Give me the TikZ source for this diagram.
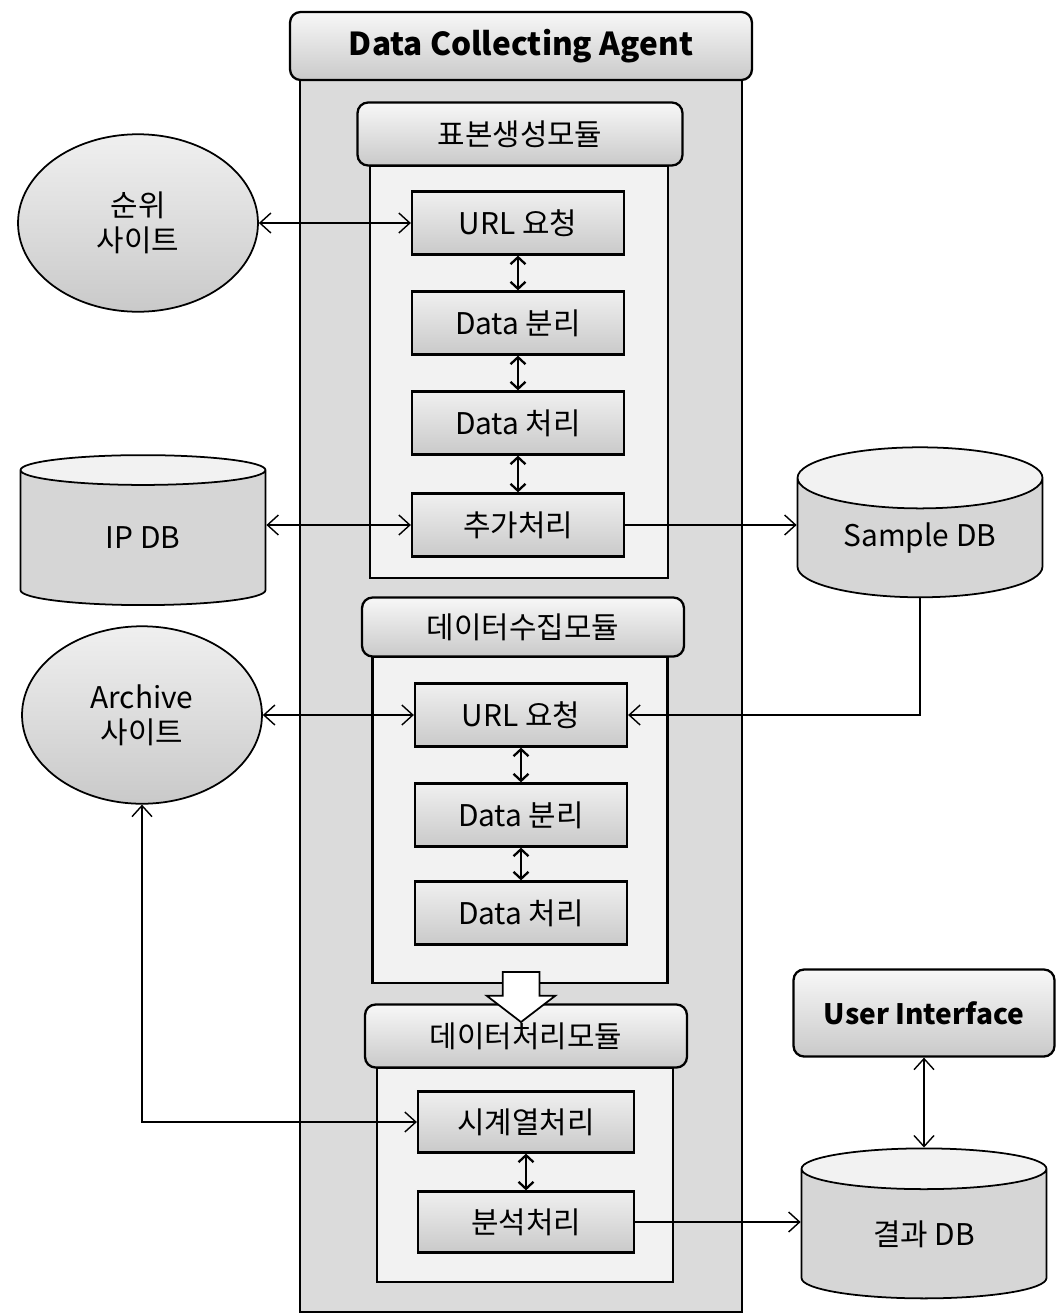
\documentclass[tikz,border=0pt]{standalone}
\usepackage{fontspec}
\setmainfont{Noto Sans CJK KR}
\usetikzlibrary{shapes.geometric}
\usetikzlibrary{shapes.arrows}
\usetikzlibrary{arrows.meta}

\begin{document}
\begin{tikzpicture}[x=0.02cm,y=-0.02cm,>={Straight Barb[length=2.2mm,width=4mm]},
    every node/.style={font=\fontsize{17}{20}\selectfont},
    hdr/.style={draw,line width=1.3pt,rounded corners=6pt,top color=gray!6,bottom color=gray!42,inner sep=0pt},
    panel/.style={draw,line width=1.3pt,fill=gray!10,inner sep=0pt},
    stepbox/.style={draw,line width=1.3pt,top color=gray!12,bottom color=gray!42,minimum width=4.24cm,minimum height=1.26cm,inner sep=0pt},
    site/.style={ellipse,draw,line width=1pt,top color=gray!12,bottom color=gray!42,minimum width=4.8cm,minimum height=3.55cm,align=center,inner sep=0pt},
    db/.style={cylinder,shape border rotate=90,aspect=0.4,draw,line width=1pt,cylinder uses custom fill,cylinder body fill=gray!32,cylinder end fill=gray!10,minimum width=4.9cm,minimum height=3cm,inner sep=0pt},
    link/.style={line width=0.8pt},
    pair/.style={<->,line width=1.3pt,>={Straight Barb[length=1.4mm,width=3mm]}}]
\useasboundingbox (0,0) rectangle (1057,1315);

% agent frame
\node[panel,fill=gray!28,minimum width=8.84cm,minimum height=24.64cm] (agent) at (521,696) {};
\node[hdr,minimum width=9.24cm,minimum height=1.36cm,font=\fontsize{18}{21}\selectfont\bfseries] (agenttitle) at (521,46) {Data Collecting Agent};

% sample module
\node[panel,minimum width=5.96cm,minimum height=8.24cm] (body1) at (519,372) {};
\node[hdr,minimum width=6.5cm,minimum height=1.26cm] (mod1) at (520,134) {표본생성모듈};
\node[stepbox] (url1) at (518,223) {URL 요청};
\node[stepbox] (split1) at (518,323) {Data 분리};
\node[stepbox] (proc1) at (518,423) {Data 처리};
\node[stepbox] (extra) at (518,525) {추가처리};

% collecting module
\node[panel,minimum width=5.9cm,minimum height=6.52cm] (body2) at (520,820) {};
\node[hdr,minimum width=6.44cm,minimum height=1.18cm] (mod2) at (523,627) {데이터수집모듈};
\node[stepbox] (url2) at (521,715) {URL 요청};
\node[stepbox] (split2) at (521,815) {Data 분리};
\node[stepbox] (proc2) at (521,913) {Data 처리};

% processing module
\node[panel,minimum width=5.92cm,minimum height=4.28cm] (body3) at (525,1175) {};
\node[hdr,minimum width=6.44cm,minimum height=1.26cm] (mod3) at (526,1036) {데이터처리모듈};
\node[stepbox,minimum width=4.32cm,minimum height=1.22cm] (series) at (526,1122) {시계열처리};
\node[stepbox,minimum width=4.32cm,minimum height=1.22cm] (analysis) at (526,1222) {분석처리};

\node[single arrow,draw,fill=white,line width=1pt,rotate=-90,inner xsep=0pt,inner ysep=0.35cm,minimum height=1cm,single arrow head extend=0.32cm,single arrow tip angle=105] (flow) at (521,990) {};

\foreach \a/\b in {url1/split1,split1/proc1,proc1/extra,url2/split2,split2/proc2,series/analysis}
    \draw[pair] (\a) -- (\b);

% outside
\node[site] (rank) at (138,223) {순위\\사이트};
\node[site] (archive) at (142,715) {Archive\\사이트};
\node[db] (ipdb) at (143,538) {IP DB};
\node[db] (sample) at (920,538) {Sample DB};
\node[db] (result) at (924,1234) {결과 DB};
\node[hdr,minimum width=5.22cm,minimum height=1.74cm,font=\fontsize{16}{19}\selectfont\bfseries] (ui) at (924,1013) {User Interface};

\draw[link,<->] (rank) -- (url1);
\draw[link,<->] (ipdb.east |- extra) -- (extra.west);
\draw[link,->] (extra) -- (extra -| sample.west);
\draw[link,<->] (archive) -- (url2);
\draw[link,->] (sample.south) |- (url2.east);
\draw[link,<->] (archive.south) |- (series.west);
\draw[link,->] (analysis) -- (analysis -| result.west);
\draw[link,<->] (ui) -- (result);
\end{tikzpicture}
\end{document}
